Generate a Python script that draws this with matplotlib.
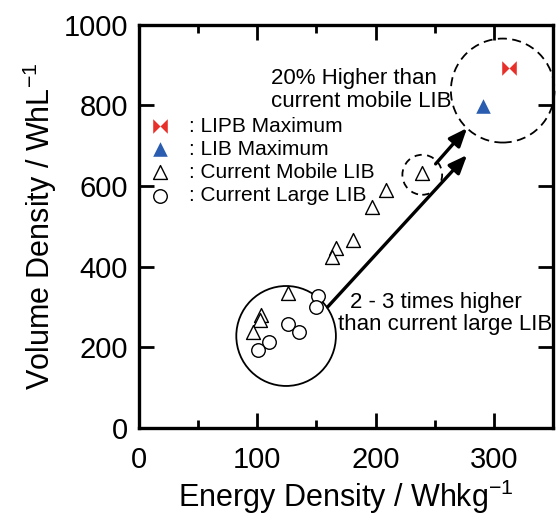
import matplotlib
matplotlib.use("Agg")
import matplotlib.pyplot as plt
from matplotlib.patches import Ellipse

plt.rcParams['font.family'] = ['Liberation Sans', 'DejaVu Sans']
plt.rcParams['mathtext.fontset'] = 'custom'
plt.rcParams['mathtext.rm'] = 'Liberation Sans'

# Data
mobile_x = [239, 209, 197, 181, 166.5, 163, 126, 103, 102, 96]
mobile_y = [632, 589, 548, 466, 446, 424, 334, 280, 268, 239]
large_x = [151, 150, 126, 135, 110, 101]
large_y = [328, 300, 258, 239, 212, 192]
lipb_x = [312.5]
lipb_y = [893]
lib_x = [291]
lib_y = [799]

# Annotation shapes (center x, center y, radius in data units x, y)
solid_circle = (124.4, 228, 42.1, 124)
small_dashed = (239.5, 628, 16.8, 49.6)
big_dashed = (307.5, 837, 43.8, 129)
arrow1 = ((250.8, 655), (277.4, 744))
arrow2 = ((159.5, 300), (277.4, 677))

xticks = [0, 100, 200, 300]
yticks = [0, 200, 400, 600, 800, 1000]

fig = plt.figure(figsize=(5.58, 5.18), dpi=100)
ax = fig.add_axes([0.249, 0.174, 0.742, 0.778])

bowtie = [(-1, 1), (0, 0), (1, 1), (1, -1), (0, 0), (-1, -1), (-1, 1)]

h1 = ax.scatter(lipb_x, lipb_y, marker=bowtie, s=110, color='#e8302a', linewidths=0, zorder=5)
h2 = ax.scatter(lib_x, lib_y, marker='^', s=110, color='#2a5db0', linewidths=0, zorder=5)
h3 = ax.scatter(mobile_x, mobile_y, marker='^', s=100, facecolors='white', edgecolors='black', linewidths=1.0, zorder=4)
h4 = ax.scatter(large_x, large_y, marker='o', s=95, facecolors='white', edgecolors='black', linewidths=1.0, zorder=4)

cx, cy, rx, ry = solid_circle
ax.add_patch(Ellipse((cx, cy), 2 * rx, 2 * ry, fill=False, ec='black', lw=1.3, zorder=3))
cx, cy, rx, ry = small_dashed
ax.add_patch(Ellipse((cx, cy), 2 * rx, 2 * ry, fill=False, ec='black', lw=1.3, ls=(0, (4, 3)), zorder=3))
cx, cy, rx, ry = big_dashed
ax.add_patch(Ellipse((cx, cy), 2 * rx, 2 * ry, fill=False, ec='black', lw=1.3, ls=(0, (5, 3)), zorder=3, clip_on=False))

for (s, e) in (arrow1, arrow2):
    ax.annotate('', xy=e, xytext=s,
                arrowprops=dict(arrowstyle='-|>,head_length=1.1,head_width=0.45', lw=2.4, color='black',
                                shrinkA=0, shrinkB=0))

fs_txt = 16
ax.text(112, 868, '20% Higher than', fontsize=fs_txt, ha='left', va='center')
ax.text(112, 810, 'current mobile LIB', fontsize=fs_txt, ha='left', va='center')
ax.text(178, 311, '2 - 3 times higher', fontsize=fs_txt, ha='left', va='center')
ax.text(168.5, 256, 'than current large LIB', fontsize=fs_txt, ha='left', va='center')

leg = ax.legend([h1, h2, h3, h4],
                [': LIPB Maximum', ': LIB Maximum', ': Current Mobile LIB', ': Current Large LIB'],
                loc='upper left', bbox_to_anchor=(0.0, 0.793), frameon=False, fontsize=15,
                handletextpad=0.8, labelspacing=0.2, borderaxespad=0, handlelength=1.2,
                scatterpoints=1)

ax.set_xlim(0, 350)
ax.set_ylim(0, 1000)
ax.set_xticks(xticks)
ax.set_xticks([50, 150, 250], minor=True)
ax.set_yticks(yticks)
ax.tick_params(which='major', direction='in', length=11, width=2, top=True, right=True, labelsize=21)
ax.tick_params(axis='y', pad=8)
ax.tick_params(axis='x', pad=13)
ax.tick_params(which='minor', direction='in', length=6, width=2, top=True, right=True)
for sp in ax.spines.values():
    sp.set_linewidth(2.4)

ax.set_xlabel('Energy Density / Whkg$^{\\mathregular{-1}}$', fontsize=22, labelpad=3)
ax.set_ylabel('Volume Density / WhL$^{\\mathregular{-1}}$', fontsize=22, labelpad=3)

fig.savefig('out.png', dpi=100)
